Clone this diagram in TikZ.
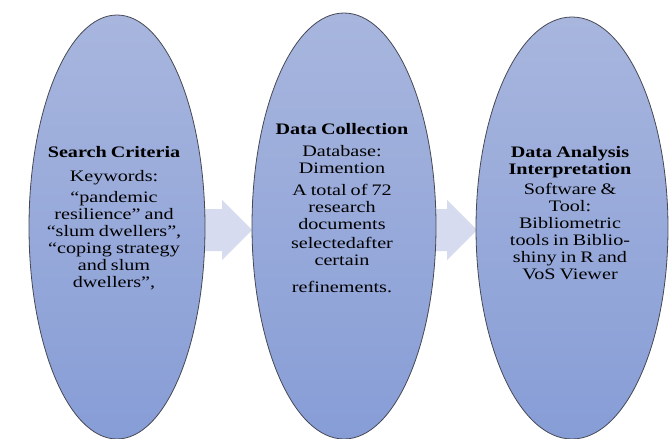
\documentclass[tikz,border=0pt]{standalone}
\usepackage{fontspec}
\setmainfont{Liberation Serif}[FakeStretch=1.26,WordSpace=0.8]
\usetikzlibrary{shapes.geometric}
\definecolor{elltop}{RGB}{168,182,222}
\definecolor{ellbot}{RGB}{135,157,214}
\definecolor{arrowfill}{RGB}{214,219,239}
\definecolor{ellline}{RGB}{70,72,84}
\tikzset{
  stage/.style={ellipse, draw=ellline, line width=0.8pt, top color=elltop, bottom color=ellbot, inner sep=0pt, outer sep=0pt},
  stagetext/.style={align=center, font=\fontsize{16}{17}\selectfont, inner sep=0pt, anchor=north, text=black},
  blockarrow/.style={fill=arrowfill},
}
\begin{document}
\begin{tikzpicture}[x=1pt,y=-1pt]
\useasboundingbox (0,0) rectangle (670,439);
% block arrows (beneath the ellipses)
\fill[blockarrow] (200,209) -- (222,209) -- (222,200) -- (252,230) -- (222,260) -- (222,251) -- (200,251) -- cycle;
\fill[blockarrow] (430,209) -- (447,209) -- (447,200) -- (477,230) -- (447,260) -- (447,251) -- (430,251) -- cycle;
% stages
\node[stage, minimum width=176pt, minimum height=424pt] (e1) at (117,227) {};
\node[stage, minimum width=184pt, minimum height=426pt] (e2) at (344,226) {};
\node[stage, minimum width=192pt, minimum height=422pt] (e3) at (572,228) {};
% texts
\node[stagetext] (t1) at (114,146) {\textbf{Search Criteria}\\[7pt]
  Keywords:\\[4pt]
  “pandemic\\
  resilience” and\\
  “slum dwellers”,\\
  “coping strategy\\
  and slum\\
  dwellers”,};
\node[stagetext] (t2) at (342,123) {\textbf{Data Collection}\\[5pt]
  Database:\\
  Dimention\\[5pt]
  A total of 72\\
  research\\
  documents\\[2pt]
  selectedafter\\
  certain\\[10pt]
  refinements.};
\node[stagetext] (t3) at (570,146) {\textbf{Data Analysis}\\
  \textbf{Interpretation}\\[3pt]
  Software \&\\
  Tool:\\
  Bibliometric\\
  tools in Biblio-\\
  shiny in R and\\
  VoS Viewer};
\end{tikzpicture}
\end{document}
